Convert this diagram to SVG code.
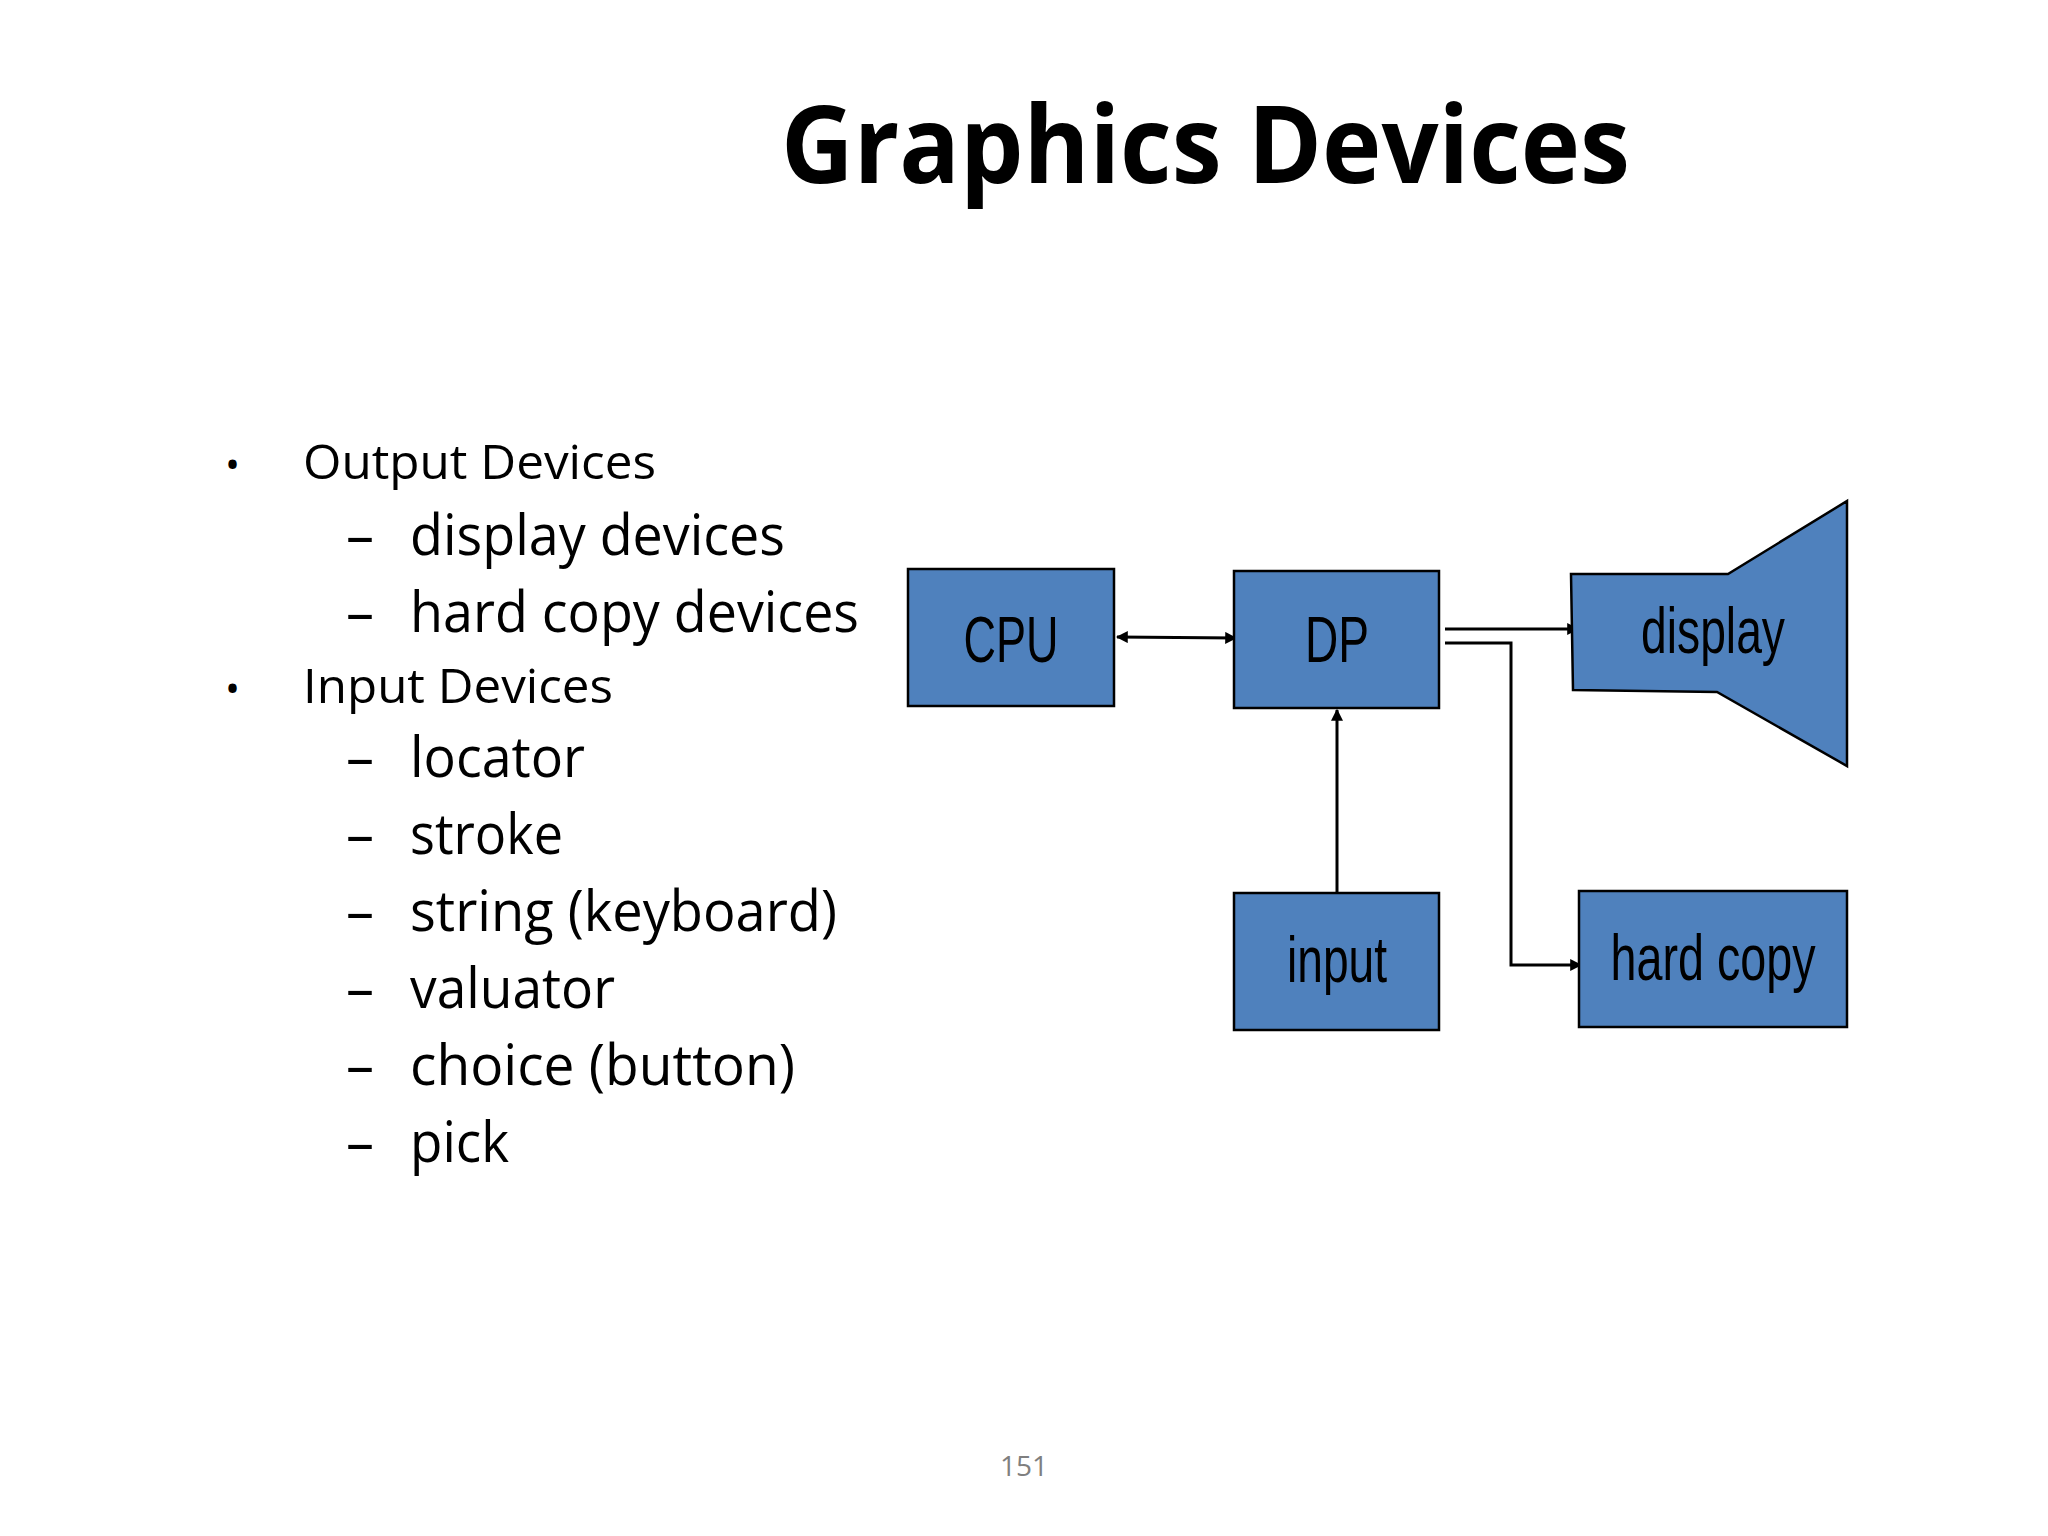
<svg xmlns="http://www.w3.org/2000/svg" width="2048" height="1536" viewBox="0 0 2048 1536">
<defs>
<style>
.node{fill:#4f81bd;stroke:#000;stroke-width:2.5}
.lbl{font-family:"Liberation Sans",Arial,sans-serif;font-size:64px;fill:#000;text-anchor:middle}
.t{font-family:"Open Sans","Noto Sans",sans-serif;fill:#000}
.c{fill:none;stroke:#000;stroke-width:3}
</style>
<marker id="ah" viewBox="0 0 10 10" refX="9" refY="5" markerWidth="4" markerHeight="4" orient="auto-start-reverse"><path d="M0,0 L10,5 L0,10 z" fill="#000"/></marker>
</defs>
<rect width="2048" height="1536" fill="#fff"/>
<text class="t" x="781" y="183" font-size="108" font-weight="bold" textLength="849" lengthAdjust="spacingAndGlyphs">Graphics Devices</text>
<g id="bullets">
<text class="t" x="225" y="479" font-size="40">•</text>
<text class="t" x="303" y="479" font-size="48" textLength="353" lengthAdjust="spacingAndGlyphs">Output Devices</text>
<text class="t" x="346" y="555" font-size="56">–</text>
<text class="t" x="410" y="555" font-size="56" textLength="375" lengthAdjust="spacingAndGlyphs">display devices</text>
<text class="t" x="346" y="632" font-size="56">–</text>
<text class="t" x="410" y="632" font-size="56" textLength="449" lengthAdjust="spacingAndGlyphs">hard copy devices</text>
<text class="t" x="225" y="703" font-size="40">•</text>
<text class="t" x="303" y="703" font-size="48" textLength="310" lengthAdjust="spacingAndGlyphs">Input Devices</text>
<text class="t" x="346" y="777" font-size="56">–</text>
<text class="t" x="410" y="777" font-size="56" textLength="175" lengthAdjust="spacingAndGlyphs">locator</text>
<text class="t" x="346" y="854" font-size="56">–</text>
<text class="t" x="410" y="854" font-size="56" textLength="153" lengthAdjust="spacingAndGlyphs">stroke</text>
<text class="t" x="346" y="931" font-size="56">–</text>
<text class="t" x="410" y="931" font-size="56" textLength="427" lengthAdjust="spacingAndGlyphs">string (keyboard)</text>
<text class="t" x="346" y="1008" font-size="56">–</text>
<text class="t" x="410" y="1008" font-size="56" textLength="205" lengthAdjust="spacingAndGlyphs">valuator</text>
<text class="t" x="346" y="1085" font-size="56">–</text>
<text class="t" x="410" y="1085" font-size="56" textLength="385" lengthAdjust="spacingAndGlyphs">choice (button)</text>
<text class="t" x="346" y="1162" font-size="56">–</text>
<text class="t" x="410" y="1162" font-size="56" textLength="99" lengthAdjust="spacingAndGlyphs">pick</text>
</g>
<g id="connectors">
<line class="c" x1="1117" y1="637" x2="1236" y2="638" marker-start="url(#ah)" marker-end="url(#ah)"/>
<line class="c" x1="1445" y1="629" x2="1578" y2="629" marker-end="url(#ah)"/>
<polyline class="c" points="1445,643 1511,643 1511,965 1581,965" marker-end="url(#ah)"/>
<line class="c" x1="1337" y1="893" x2="1337" y2="710" marker-end="url(#ah)"/>
</g>
<g id="cpu"><rect class="node" x="908" y="569" width="206" height="137"/><text class="lbl" x="1011" y="662" textLength="95" lengthAdjust="spacingAndGlyphs">CPU</text></g>
<g id="dp"><rect class="node" x="1234" y="571" width="205" height="137"/><text class="lbl" x="1337" y="662" textLength="64" lengthAdjust="spacingAndGlyphs">DP</text></g>
<g id="display"><polygon class="node" points="1571,574 1728,574 1847,501 1847,766 1717,692 1573,690"/><text class="lbl" x="1713" y="653" textLength="144" lengthAdjust="spacingAndGlyphs">display</text></g>
<g id="input"><rect class="node" x="1234" y="893" width="205" height="137"/><text class="lbl" x="1337" y="982" textLength="100" lengthAdjust="spacingAndGlyphs">input</text></g>
<g id="hardcopy"><rect class="node" x="1579" y="891" width="268" height="136"/><text class="lbl" x="1713" y="980" textLength="205" lengthAdjust="spacingAndGlyphs">hard copy</text></g>
<text x="1024" y="1476" font-family="Open Sans, sans-serif" font-size="28" fill="#7f7f7f" text-anchor="middle">151</text>
</svg>
